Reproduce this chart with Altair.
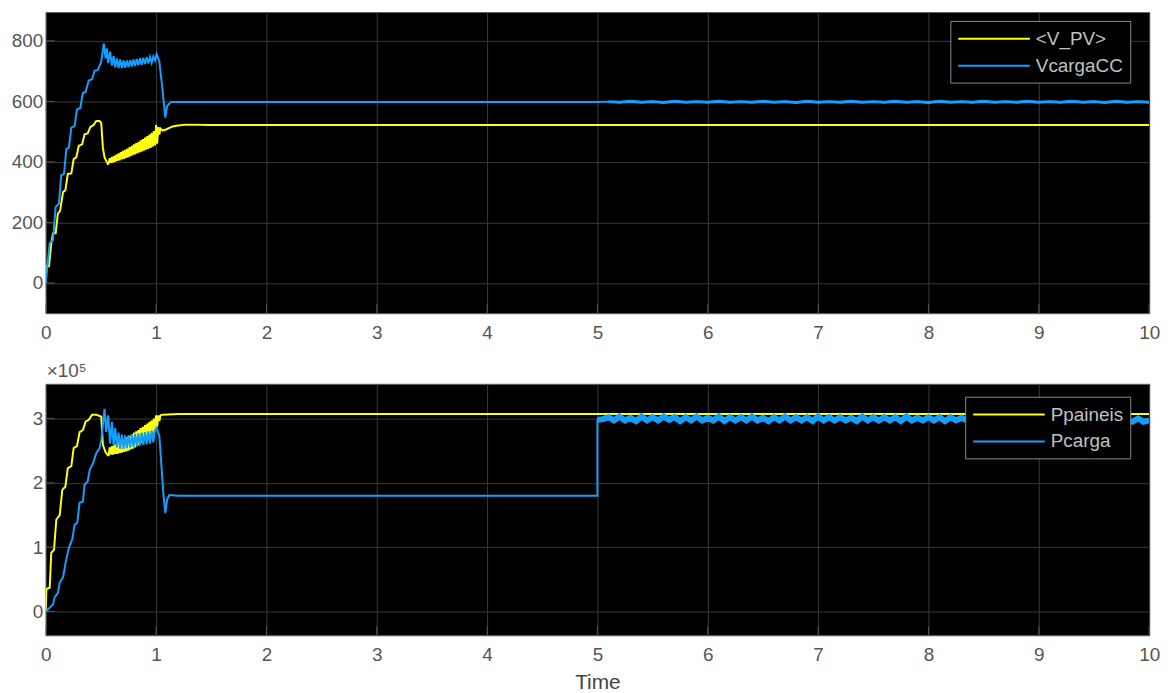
import altair as alt
import pandas as pd

# ---------------- data ----------------
TOP_NAMES = ["<V_PV>", "VcargaCC"]
BOT_NAMES = ["Ppaineis", "Pcarga"]
YELLOW = "#FFFF11"
BLUE = "#139FFF"

X_TICKS = [0, 1, 2, 3, 4, 5, 6, 7, 8, 9, 10]
TOP_Y_TICKS = [0, 200, 400, 600, 800]
BOT_Y_TICKS = [0, 1, 2, 3]

# <V_PV>
T_VPV = [0, 0.006, 0.03, 0.05, 0.066, 0.09, 0.11, 0.13, 0.157, 0.178, 0.2, 0.232, 0.253,
         0.277, 0.3, 0.33, 0.352, 0.38, 0.404, 0.434, 0.458, 0.488, 0.503, 0.518, 0.533, 0.563,
         0.57, 0.58, 0.59, 0.60, 0.61, 0.62, 0.63, 0.64, 0.65, 0.66, 0.67, 0.68, 0.69, 0.70,
         0.71, 0.72, 0.73, 0.74, 0.75, 0.76, 0.77, 0.78, 0.79, 0.80, 0.81, 0.82, 0.83, 0.84,
         0.85, 0.86, 0.87, 0.88, 0.89, 0.90, 0.91, 0.92, 0.93, 0.94, 0.95, 0.96, 0.97, 0.98,
         0.99, 1.00, 1.01, 1.02, 1.03, 1.04, 1.06, 1.09, 1.15, 1.2, 1.27, 1.5, 3.0, 5.0, 7.0, 10.0]
V_VPV = [0, 55, 55, 131, 164, 164, 229, 238, 300, 306, 360, 362, 409,
         415, 453, 458, 491, 494, 515, 522, 535, 535, 529, 447, 415, 393,
         395, 412, 397, 416, 398, 420, 400, 424, 403, 428, 405, 432, 408, 436,
         410, 440, 413, 444, 416, 449, 419, 453, 422, 458, 425, 462, 428, 466,
         431, 471, 434, 475, 437, 480, 440, 485, 443, 490, 446, 496, 450, 502,
         454, 522, 460, 515, 490, 510, 503, 507, 517, 520, 523, 522, 522, 522, 522, 522]

# VcargaCC
T_VCC = [0, 0.036, 0.066, 0.09, 0.12, 0.14, 0.166, 0.187, 0.21, 0.232, 0.262, 0.283, 0.313,
         0.337, 0.361, 0.39, 0.42, 0.443, 0.473, 0.503, 0.527, 0.542, 0.554, 0.566, 0.584,
         0.600, 0.615, 0.630, 0.645, 0.660, 0.675, 0.690, 0.705, 0.720, 0.735, 0.750, 0.765,
         0.780, 0.795, 0.810, 0.825, 0.840, 0.855, 0.870, 0.885, 0.900, 0.915, 0.930, 0.945,
         0.960, 0.975, 0.990, 1.005, 1.030, 1.060, 1.084, 1.100, 1.135, 1.3, 3.0, 5.0,
         5.1, 5.2, 5.3, 5.4, 5.5, 5.6, 5.7, 5.8, 5.9, 6.0,
         6.1, 6.2, 6.3, 6.4, 6.5, 6.6, 6.7, 6.8, 6.9, 7.0,
         7.1, 7.2, 7.3, 7.4, 7.5, 7.6, 7.7, 7.8, 7.9, 8.0,
         8.1, 8.2, 8.3, 8.4, 8.5, 8.6, 8.7, 8.8, 8.9, 9.0,
         9.1, 9.2, 9.3, 9.4, 9.5, 9.6, 9.7, 9.8, 9.9, 10.0]
V_VCC = [0, 131, 142, 251, 262, 355, 360, 442, 447, 513, 518, 573, 578,
         628, 631, 669, 673, 701, 704, 731, 791, 742, 775, 726, 764,
         718, 750, 712, 742, 710, 738, 710, 735, 711, 735, 713, 736,
         715, 738, 717, 740, 719, 742, 721, 744, 723, 746, 725, 747,
         727, 748, 735, 756, 731, 633, 546, 584, 598, 598, 598, 598,
         599, 597, 600, 597, 599, 596, 600, 597, 599, 597,
         600, 597, 599, 597, 600, 597, 599, 596, 600, 597,
         599, 597, 600, 597, 599, 597, 600, 597, 599, 596,
         600, 597, 599, 597, 600, 597, 599, 597, 600, 597,
         599, 597, 600, 597, 599, 596, 600, 597, 599, 597]

# Ppaineis (x 1e5)
T_PP = [0, 0.006, 0.036, 0.05, 0.075, 0.096, 0.127, 0.15, 0.178, 0.2, 0.232, 0.253, 0.283,
        0.307, 0.337, 0.361, 0.39, 0.42, 0.458, 0.488, 0.503, 0.518, 0.542, 0.563,
        0.57, 0.58, 0.59, 0.60, 0.61, 0.62, 0.63, 0.64, 0.65, 0.66, 0.67, 0.68, 0.69, 0.70,
        0.71, 0.72, 0.73, 0.74, 0.75, 0.76, 0.77, 0.78, 0.79, 0.80, 0.81, 0.82, 0.83, 0.84,
        0.85, 0.86, 0.87, 0.88, 0.89, 0.90, 0.91, 0.92, 0.93, 0.94, 0.95, 0.96, 0.97, 0.98,
        0.99, 1.00, 1.01, 1.02, 1.03, 1.04, 1.06, 1.2, 3.0, 5.0, 7.0, 10.0]
V_PP = [0, 0.35, 0.37, 0.91, 0.96, 1.43, 1.50, 1.89, 1.94, 2.23, 2.26, 2.54, 2.57,
        2.79, 2.82, 2.95, 2.98, 3.06, 3.06, 3.04, 3.03, 2.59, 2.48, 2.43,
        2.43, 2.55, 2.44, 2.57, 2.44, 2.59, 2.45, 2.61, 2.45, 2.63, 2.46, 2.65, 2.47, 2.67,
        2.48, 2.69, 2.49, 2.71, 2.50, 2.73, 2.52, 2.75, 2.53, 2.78, 2.55, 2.80, 2.57, 2.82,
        2.59, 2.85, 2.62, 2.87, 2.65, 2.90, 2.68, 2.92, 2.71, 2.95, 2.74, 2.97, 2.77, 3.00,
        2.82, 3.05, 2.87, 3.05, 2.96, 3.05, 3.06, 3.07, 3.07, 3.07, 3.07, 3.07]

# Pcarga (x 1e5)
T_PC = [0, 0.036, 0.066, 0.081, 0.11, 0.127, 0.157, 0.18, 0.21, 0.24, 0.262, 0.286, 0.307,
        0.337, 0.352, 0.38, 0.398, 0.428, 0.458, 0.488, 0.503, 0.533, 0.548, 0.566, 0.584, 0.600,
        0.615, 0.630, 0.645, 0.660, 0.675, 0.690, 0.705, 0.720, 0.735, 0.750, 0.765, 0.780,
        0.795, 0.810, 0.825, 0.840, 0.855, 0.870, 0.885, 0.900, 0.915, 0.930, 0.945, 0.960,
        0.975, 0.990, 1.005, 1.030, 1.045, 1.066, 1.084, 1.100, 1.120, 1.2, 3.0, 5.0, 5.0,
        5.05, 5.10, 5.15, 5.20, 5.25, 5.30, 5.35, 5.40, 5.45, 5.50,
        5.55, 5.60, 5.65, 5.70, 5.75, 5.80, 5.85, 5.90, 5.95, 6.00,
        6.05, 6.10, 6.15, 6.20, 6.25, 6.30, 6.35, 6.40, 6.45, 6.50,
        6.55, 6.60, 6.65, 6.70, 6.75, 6.80, 6.85, 6.90, 6.95, 7.00,
        7.05, 7.10, 7.15, 7.20, 7.25, 7.30, 7.35, 7.40, 7.45, 7.50,
        7.55, 7.60, 7.65, 7.70, 7.75, 7.80, 7.85, 7.90, 7.95, 8.00,
        8.05, 8.10, 8.15, 8.20, 8.25, 8.30, 8.35, 8.40, 8.45, 8.50,
        8.55, 8.60, 8.65, 8.70, 8.75, 8.80, 8.85, 8.90, 8.95, 9.00,
        9.05, 9.10, 9.15, 9.20, 9.25, 9.30, 9.35, 9.40, 9.45, 9.50,
        9.55, 9.60, 9.65, 9.70, 9.75, 9.80, 9.85, 9.90, 9.95, 10.00]
V_PC = [0, 0.06, 0.11, 0.22, 0.29, 0.45, 0.53, 0.76, 0.99, 1.12, 1.35, 1.38, 1.69,
        1.71, 1.97, 2.02, 2.20, 2.30, 2.46, 2.54, 2.66, 3.15, 2.79, 3.05, 2.61, 2.95,
        2.58, 2.85, 2.55, 2.78, 2.53, 2.75, 2.53, 2.74, 2.54, 2.74, 2.55, 2.75,
        2.56, 2.76, 2.57, 2.77, 2.58, 2.78, 2.59, 2.79, 2.60, 2.80, 2.61, 2.81,
        2.63, 2.82, 2.86, 2.72, 2.36, 1.84, 1.53, 1.74, 1.81, 1.80, 1.80, 1.80, 2.98,
        2.99, 3.02, 2.97, 3.03, 2.97, 3.01, 2.96, 3.03, 2.97, 3.02,
        2.97, 3.03, 2.98, 3.02, 2.96, 3.02, 2.97, 3.03, 2.97, 3.01,
        2.97, 3.03, 2.96, 3.02, 2.97, 3.02, 2.97, 3.03, 2.97, 3.01,
        2.96, 3.02, 2.97, 3.03, 2.97, 3.02, 2.97, 3.02, 2.96, 3.03,
        2.97, 3.02, 2.97, 3.02, 2.97, 3.01, 2.96, 3.03, 2.97, 3.02,
        2.97, 3.02, 2.97, 3.02, 2.96, 3.03, 2.97, 3.01, 2.97, 3.02,
        2.97, 3.02, 2.96, 3.02, 2.97, 3.01, 2.97, 3.03, 2.96, 3.02,
        2.97, 3.01, 2.97, 3.02, 2.96, 3.02, 2.97, 3.00, 2.96, 3.02,
        2.96, 3.01, 2.95, 3.02, 2.96, 3.00, 2.96, 3.01, 2.95, 3.00,
        2.96, 3.01, 2.95, 3.00, 2.96, 2.99, 2.95, 3.00, 2.95, 2.97]


def frame(name, t, v):
    return pd.DataFrame({"t": t, "v": v, "series": name, "i": list(range(len(t)))})


top_df = pd.concat([frame(TOP_NAMES[0], T_VPV, V_VPV), frame(TOP_NAMES[1], T_VCC, V_VCC)])
bot_df = pd.concat([frame(BOT_NAMES[0], T_PP, V_PP), frame(BOT_NAMES[1], T_PC, V_PC)])

FONT = "Liberation Sans"
LABEL_COLOR = "#555555"
GRID = "#3a3a3a"
TICK_COLOR = "#6e6e6e"


def panel(df, names, ydomain, yticks, height, xtitle, lx, ly, noisy_filter, noisy_width, title=None):
    xaxis_kw = dict(values=X_TICKS, format="d", ticks=False, domain=False, labelPadding=10,
                    gridColor=GRID, labelFontSize=19, labelColor=LABEL_COLOR, labelFont=FONT,
                    labelFlush=False)
    if xtitle:
        xaxis = alt.Axis(title=xtitle, titleFontSize=21, titleFontWeight="normal",
                         titleColor="#444444", titleFont=FONT, titlePadding=8, **xaxis_kw)
    else:
        xaxis = alt.Axis(title=None, **xaxis_kw)
    yaxis = alt.Axis(values=yticks, format="d", ticks=False, domain=False, labelPadding=3,
                     gridColor=GRID, labelFontSize=19, labelColor=LABEL_COLOR,
                     labelFont=FONT, title=None, minExtent=36, labelFlush=False)
    xscale = alt.Scale(domain=[0, 10], nice=False)
    yscale = alt.Scale(domain=ydomain, nice=False, zero=False)
    base = alt.Chart(df).encode(
        x=alt.X("t:Q", scale=xscale, axis=xaxis),
        y=alt.Y("v:Q", scale=yscale, axis=yaxis),
        color=alt.Color("series:N", scale=alt.Scale(domain=names, range=[YELLOW, BLUE]),
                        legend=alt.Legend(title=None, orient="none", legendX=lx, legendY=ly,
                                          fillColor="black", strokeColor="#8a8a8a", padding=7,
                                          labelColor="#c0c0c0", labelFontSize=19, labelFont=FONT,
                                          symbolType="M-3.6,0H3.6", symbolSize=400,
                                          symbolStrokeWidth=2, symbolOffset=26,
                                          labelOffset=31, rowPadding=6, cornerRadius=0)),
        order="i:Q",
    )
    lines = base.mark_line(strokeWidth=2, clip=True)
    noisy = base.transform_filter(noisy_filter).mark_line(strokeWidth=noisy_width, clip=True)

    # inward tick marks (MATLAB style) on the left and bottom edges
    ytick_df = pd.DataFrame({"v": yticks})
    xtick_df = pd.DataFrame({"t": X_TICKS})
    yt = alt.Chart(ytick_df).mark_tick(color=TICK_COLOR, size=9, thickness=1, orient="horizontal").encode(
        y=alt.Y("v:Q", scale=yscale, axis=yaxis), x=alt.value(4.5))
    xt = alt.Chart(xtick_df).mark_tick(color=TICK_COLOR, size=9, thickness=1, orient="vertical").encode(
        x=alt.X("t:Q", scale=xscale, axis=xaxis), y=alt.value(height - 4.5))

    chart = alt.layer(lines, noisy, yt, xt).properties(width=1110, height=height)
    if title:
        chart = chart.properties(title=alt.TitleParams(text=title, anchor="start", frame="group",
                                                       fontSize=19, fontWeight="normal",
                                                       color=LABEL_COLOR, font=FONT, offset=3, dx=1))
    return chart


top = panel(top_df, TOP_NAMES, [-100, 895], TOP_Y_TICKS, 303, None, 910, 9,
            "datum.t > 5 && datum.series == 'VcargaCC'", 3)
bottom = panel(bot_df, BOT_NAMES, [-0.37, 3.54], BOT_Y_TICKS, 253, "Time", 925, 13,
               "datum.t >= 5 && datum.v > 2.5 && datum.series == 'Pcarga'", 6, title="×10⁵")

chart = alt.vconcat(top, bottom, spacing=18).resolve_scale(color="independent").properties(
    padding={"left": 9, "top": 9, "right": 10, "bottom": 3},
    background="white",
).configure_view(fill="black", stroke="#666666", strokeWidth=1).configure_axis(gridOpacity=1)

chart.save("out.html", embed_options={"renderer": "svg", "actions": False})
